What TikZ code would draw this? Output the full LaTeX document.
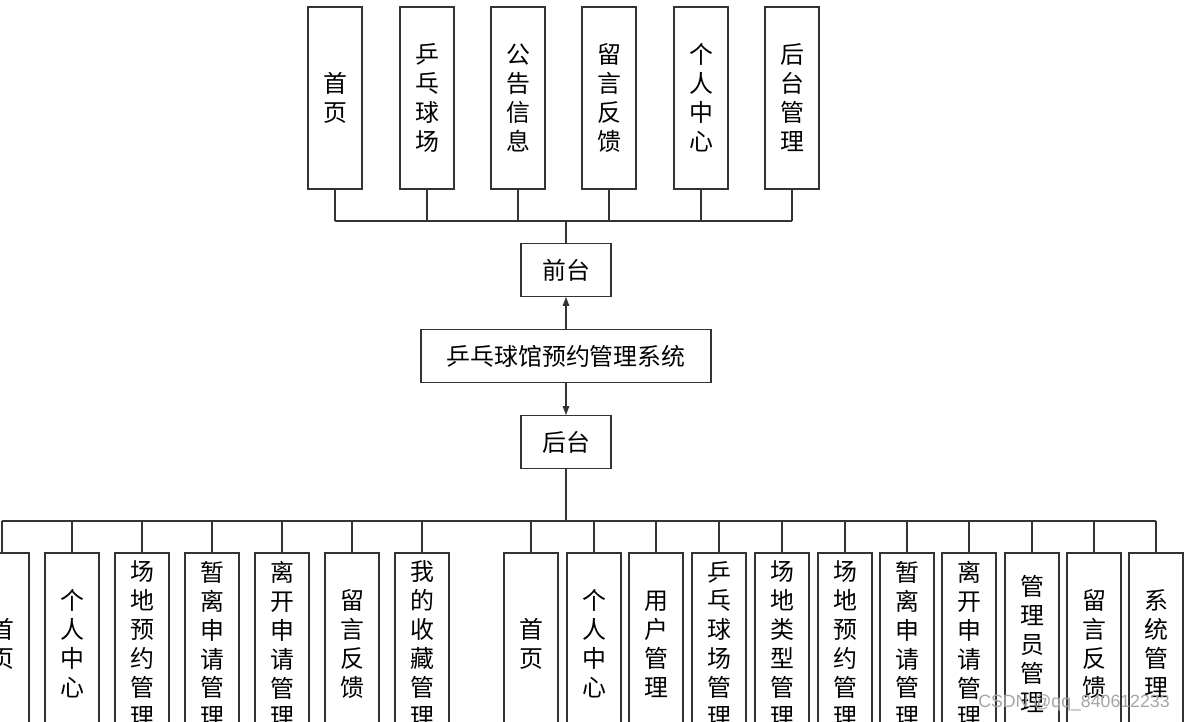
\documentclass[tikz,border=0pt]{standalone}
\usepackage{fontspec}
\newfontfamily\cjk{Noto Sans CJK SC}
\newfontfamily\wmfont{Liberation Sans}
\newcommand\cnfont{\cjk\fontsize{17pt}{20.6pt}\selectfont}
\usetikzlibrary{arrows.meta}

\begin{document}
\begin{tikzpicture}[
    x=0.025cm, y=-0.025cm,
    >={Triangle[length=0.22cm,width=0.16cm]},
    line/.style={draw=black!80, line width=0.8pt},
    vbox/.style={line, minimum width=1.35cm, minimum height=4.55cm, inner sep=0pt, align=center, font=\cnfont},
    hbox/.style={line, minimum height=1.32cm, inner sep=0pt, font=\cnfont},
    arr/.style={line, ->}
]
    \clip (0,0) rectangle (1186,722);
    \fill[white] (0,0) rectangle (1186,722);
    % front end
    \foreach \x/\txt [count=\i] in {335/首\\页, 427/乒\\乓\\球\\场, 518/公\\告\\信\\息,
                                    609/留\\言\\反\\馈, 701/个\\人\\中\\心, 792/后\\台\\管\\理} {
        \node[vbox] (f\i) at (\x,98) {\txt};
    }
    \node[hbox, minimum width=2.25cm] (qt) at (566,270) {前台};
    \node[hbox, minimum width=7.25cm] (sys) at (566,356) {乒乓球馆预约管理系统};
    \node[hbox, minimum width=2.25cm] (ht) at (566,442) {后台};
    \draw[arr] (sys.north) -- (qt.south);
    \draw[arr] (sys.south) -- (ht.north);
    \coordinate (fbus) at (566,221);
    \draw[line] (qt.north) -- (fbus);
    \draw[line] (f1.south |- fbus) -- (f6.south |- fbus);
    \foreach \i in {1,...,6} {
        \draw[line] (f\i.south) -- (f\i.south |- fbus);
    }
    % back end, user side
    \foreach \x/\txt [count=\i] in {2/首\\页, 72/个\\人\\中\\心, 142/场\\地\\预\\约\\管\\理,
                                    212/暂\\离\\申\\请\\管\\理, 282/离\\开\\申\\请\\管\\理,
                                    352/留\\言\\反\\馈, 422/我\\的\\收\\藏\\管\\理} {
        \node[vbox] (u\i) at (\x,644) {\txt};
    }
    % back end, admin side
    \foreach \x/\txt [count=\i] in {531/首\\页, 594/个\\人\\中\\心, 656/用\\户\\管\\理,
                                    719/乒\\乓\\球\\场\\管\\理, 782/场\\地\\类\\型\\管\\理,
                                    845/场\\地\\预\\约\\管\\理, 907/暂\\离\\申\\请\\管\\理,
                                    969/离\\开\\申\\请\\管\\理, 1032/管\\理\\员\\管\\理,
                                    1094/留\\言\\反\\馈, 1156/系\\统\\管\\理} {
        \node[vbox] (a\i) at (\x,644) {\txt};
    }
    \coordinate (bbus) at (566,521);
    \draw[line] (ht.south) -- (bbus);
    \draw[line] (u1.north |- bbus) -- (a11.north |- bbus);
    \foreach \i in {1,...,7} {
        \draw[line] (u\i.north) -- (u\i.north |- bbus);
    }
    \foreach \i in {1,...,11} {
        \draw[line] (a\i.north) -- (a\i.north |- bbus);
    }
    \node[gray!70, font=\wmfont\fontsize{12.6pt}{13pt}\selectfont] (wm) at (1074,703) {CSDN @qq\_840612233};
\end{tikzpicture}
\end{document}
